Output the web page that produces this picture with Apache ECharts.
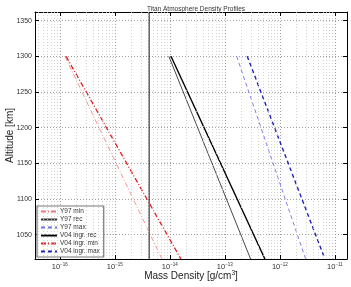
<!DOCTYPE html>
<html>
<head>
<meta charset="utf-8">
<script src="https://cdn.jsdelivr.net/npm/echarts@6/dist/echarts.min.js"></script>
<style>
html,body{margin:0;padding:0;background:#fff;}
#container{width:351px;height:287px;}
</style>
</head>
<body>
<div id="container"></div>
<script>
// altitude of the two end points of every profile [km]
var altitudes = [1300, 1016];
// mass density at those altitudes [g/cm3]
var y97Min = [1.24e-16, 7.2e-15];
var y97Rec = [9.6e-15, 2.94e-13];
var y97Max = [1.64e-13, 2.94e-12];
var v04Rec = [1.05e-14, 5.35e-13];
var v04Min = [1.30e-16, 1.59e-14];
var v04Max = [2.55e-13, 6.58e-12];
// vertical reference line
var refDensity = 4.2e-15;
var xTickExps = [-16, -15, -14, -13, -12, -11];
var yTicks = [1050, 1100, 1150, 1200, 1250, 1300, 1350];

var xMin = -16.45, xMax = -10.78;   // log10 of density
var yMin = 1016, yMax = 1362;
var font = 'Liberation Sans';

function toPts(dens){
	return dens.map(function(d, i){ return [Math.log10(d), altitudes[i]]; });
}

// minor grid positions (2..9 x 10^n)
var minorLines = [];
for (var n = -17; n <= -11; n++) {
	for (var k = 2; k <= 9; k++) {
		var v = n + Math.log10(k);
		if (v > xMin && v < xMax) minorLines.push({xAxis: v});
	}
}

var myChart = echarts.init(document.getElementById('container'));
function mkLine(name, data, color, width, dash){
	return {
		name: name, type: 'line', data: toPts(data),
		xAxisIndex: 0, yAxisIndex: 0,
		// zero-area symbol so the legend shows only the line sample
		symbol: 'path://M0,0L1,1', showSymbol: false, silent: true, animation: false,
		lineStyle: {color: color, width: width, type: dash},
		itemStyle: {color: color, borderWidth: 0}
	};
}
var option = {
	animation: false,
	title: {
		text: 'Titan Atmosphere Density Profiles',
		left: 191, top: 1, textAlign: 'center',
		textStyle: {fontFamily: font, fontSize: 6.5, fontWeight: 'normal', color: '#333'}
	},
	grid: {left: 35, right: 4, top: 12, bottom: 28, containLabel: false, outerBoundsMode: 'none'},
	legend: {
		data: ['Y97 min','Y97 rec','Y97 max','V04 ingr. rec','V04 ingr. min','V04 ingr. max'],
		orient: 'vertical', left: 37, top: 206,
		itemWidth: 16, itemHeight: 7, itemGap: 1,
		padding: [2, 4, 2, 3],
		backgroundColor: '#fff', borderColor: '#777', borderWidth: 1.2,
		itemStyle: {borderWidth: 0},
		textStyle: {fontFamily: font, fontSize: 6.5, color: '#333', padding: [0,0,0,-2]},
		selectedMode: false
	},
	xAxis: [{
		type: 'value', min: xMin, max: xMax, splitNumber: 6,
		name: '{a|Mass Density [g/cm}{s|3}{a|]}', nameLocation: 'middle', nameGap: 11,
		nameMoveOverlap: false,
		nameTextStyle: {rich: {
			a: {fontFamily: font, fontSize: 10, color: '#222'},
			s: {fontFamily: font, fontSize: 6.5, color: '#222', verticalAlign: 'top', padding: [0,0,6,0]}
		}},
		axisLine: {show: true, onZero: false, lineStyle: {color: '#000', width: 1}},
		axisTick: {show: true, inside: true, length: 4, lineStyle: {color: '#000'}},
		axisLabel: {
			margin: 3,
			formatter: function(v){
				var r = Math.round(v);
				if (Math.abs(v - r) > 1e-6 || xTickExps.indexOf(r) < 0) return '';
				return '{b|10}{e|' + String(r).replace('-', '\u2212') + '}';
			},
			rich: {
				b: {fontFamily: font, fontSize: 7.5, color: '#333'},
				e: {fontFamily: font, fontSize: 4.5, color: '#333', verticalAlign: 'top', padding: [0,0,5,0]}
			}
		},
		splitLine: {show: true, lineStyle: {color: '#888', width: 0.8, type: [1, 2]}}
	}, {
		type: 'value', position: 'top', min: xMin, max: xMax, splitNumber: 6,
		axisLine: {show: true, onZero: false, lineStyle: {color: '#000', width: 1}},
		axisTick: {show: true, inside: true, length: 4, lineStyle: {color: '#000'}},
		axisLabel: {show: false}, splitLine: {show: false}
	}],
	yAxis: [{
		type: 'value', min: yMin, max: yMax, splitNumber: 7,
		name: 'Altitude [km]', nameLocation: 'middle', nameGap: 20,
		nameMoveOverlap: false,
		nameTextStyle: {fontFamily: font, fontSize: 10, color: '#222'},
		axisLine: {show: true, onZero: false, lineStyle: {color: '#000', width: 1}},
		axisTick: {show: true, inside: true, length: 4, lineStyle: {color: '#000'}},
		axisLabel: {
			margin: 3, fontFamily: font, fontSize: 7, color: '#333',
			formatter: function(v){ return yTicks.indexOf(Math.round(v)) >= 0 && Math.abs(v - Math.round(v)) < 1e-6 ? String(Math.round(v)) : ''; }
		},
		splitLine: {show: true, lineStyle: {color: '#888', width: 0.8, type: [1, 2]}}
	}, {
		type: 'value', position: 'right', min: yMin, max: yMax, splitNumber: 7,
		axisLine: {show: true, onZero: false, lineStyle: {color: '#000', width: 1}},
		axisTick: {show: true, inside: true, length: 4, lineStyle: {color: '#000'}},
		axisLabel: {show: false}, splitLine: {show: false}
	}],
	series: [
		{
			name: 'minor', type: 'line', data: [], xAxisIndex: 0, yAxisIndex: 0, silent: true,
			markLine: {
				silent: true, symbol: 'none', animation: false, label: {show: false},
				lineStyle: {color: '#c8c8c8', width: 0.8, type: [1, 2]},
				data: minorLines
			}
		},
		{
			name: 'ref', type: 'line', xAxisIndex: 0, yAxisIndex: 0, symbol: 'none', silent: true,
			data: [[Math.log10(refDensity), yMin], [Math.log10(refDensity), yMax]],
			lineStyle: {color: '#000', width: 1}
		},
		mkLine('Y97 min', y97Min, '#f07878', 0.8, [5, 2, 1, 2]),
		mkLine('Y97 rec', y97Rec, '#333', 0.9, 'solid'),
		mkLine('Y97 max', y97Max, '#7070e8', 0.9, [4, 3]),
		mkLine('V04 ingr. rec', v04Rec, '#000', 1.4, 'solid'),
		mkLine('V04 ingr. min', v04Min, '#e02020', 1.3, [5, 2, 1, 2]),
		mkLine('V04 ingr. max', v04Max, '#2020c0', 1.4, [4, 3])
	]
};
myChart.setOption(option);
window.onresize = myChart.resize;
</script>
</body>
</html>
